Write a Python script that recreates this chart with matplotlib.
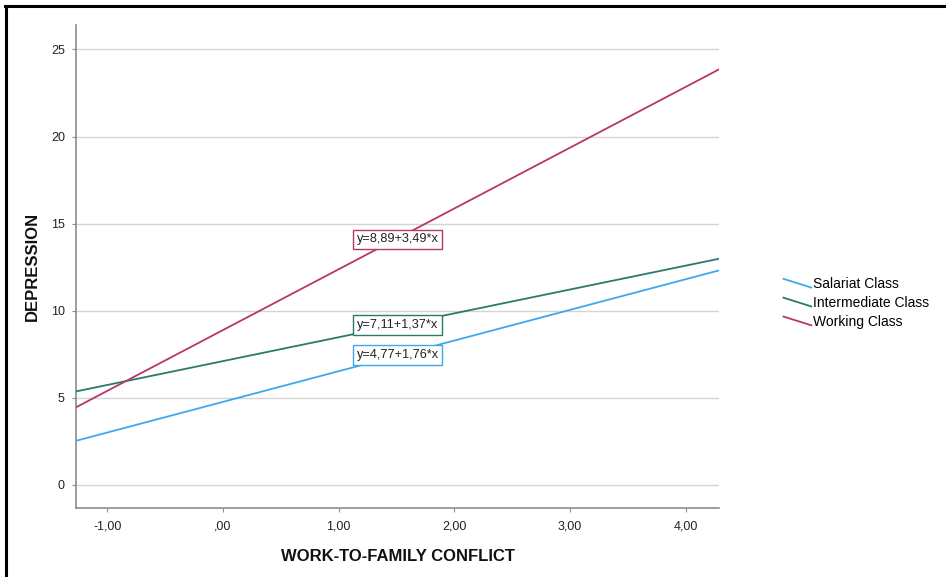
import matplotlib
matplotlib.use("Agg")
import matplotlib.pyplot as plt
import numpy as np
from matplotlib.legend_handler import HandlerLine2D
from matplotlib.lines import Line2D

plt.rcParams['font.family'] = ['Liberation Sans', 'DejaVu Sans']

# Fit lines: intercept and slope for each class
groups = ["Salariat Class", "Intermediate Class", "Working Class"]
intercepts = [4.77, 7.11, 8.89]
slopes = [1.76, 1.37, 3.49]
colors = ["#3ea8ee", "#2a7a6c", "#b8366b"]
label_pos_x = [1.51, 1.51, 1.51]
label_pos_y = [7.45, 9.2, 14.1]

x_range = [-1.27, 4.29]
y_range = [-1.32, 26.4]
x_ticks = [-1, 0, 1, 2, 3, 4]
x_tick_labels = ["-1,00", ",00", "1,00", "2,00", "3,00", "4,00"]
y_ticks = [0, 5, 10, 15, 20, 25]


class DiagonalHandler(HandlerLine2D):
    def create_artists(self, legend, orig_handle, xdescent, ydescent,
                       width, height, fontsize, trans):
        line = Line2D([-xdescent, -xdescent + width],
                      [-ydescent + height * 0.95, -ydescent + height * 0.05],
                      color=orig_handle.get_color(),
                      linewidth=orig_handle.get_linewidth())
        line.set_transform(trans)
        return [line]


fig = plt.figure(figsize=(9.46, 5.77), dpi=100)
ax = fig.add_axes([0.0803, 0.1196, 0.680, 0.837])

xs = np.array(x_range)
handles = []
for name, b0, b1, c in zip(groups, intercepts, slopes, colors):
    h, = ax.plot(xs, b0 + b1 * xs, color=c, linewidth=1.3, label=name,
                 solid_capstyle="butt", zorder=3)
    handles.append(h)

for b0, b1, c, lx, ly in zip(intercepts, slopes, colors, label_pos_x, label_pos_y):
    txt = "y=%s+%s*x" % (f"{b0:.2f}".replace(".", ","), f"{b1:.2f}".replace(".", ","))
    ax.text(lx, ly, txt, ha="center", va="center", fontsize=9.2, color="#222222",
            zorder=5,
            bbox=dict(boxstyle="square,pad=0.3", fc="white", ec=c, lw=1.0))

ax.set_xlim(*x_range)
ax.set_ylim(*y_range)
ax.set_xticks(x_ticks)
ax.set_xticklabels(x_tick_labels)
ax.set_yticks(y_ticks)
ax.yaxis.grid(True, color="#d4d4d4", linewidth=1.0, zorder=0)
ax.set_axisbelow(True)

for side in ("top", "right"):
    ax.spines[side].set_visible(False)
for side in ("left", "bottom"):
    ax.spines[side].set_color("#8c8c8c")
    ax.spines[side].set_linewidth(1.2)

ax.tick_params(axis="both", colors="#8c8c8c", labelcolor="#222222",
               labelsize=9, length=3, width=0.8)
ax.tick_params(axis="y", pad=5)
ax.tick_params(axis="x", pad=6)

ax.set_xlabel("WORK-TO-FAMILY CONFLICT", fontsize=12, fontweight="bold",
              labelpad=12, color="#111111")
ax.set_ylabel("DEPRESSION", fontsize=12, fontweight="bold",
              labelpad=8, color="#111111")

leg = fig.legend(handles=handles, labels=groups, loc="center left",
                 bbox_to_anchor=(0.815, 0.475), frameon=False, fontsize=10,
                 handlelength=2.0, handletextpad=0.15, labelspacing=0.35,
                 handler_map={Line2D: DiagonalHandler()})

# Frame lines along the top and left edges of the figure
fig.add_artist(Line2D([0.0065, 0.0065], [0.0, 0.9895], transform=fig.transFigure,
                      color="black", linewidth=2.2))
fig.add_artist(Line2D([0.0055, 1.0], [0.9895, 0.9895], transform=fig.transFigure,
                      color="black", linewidth=2.2))

fig.savefig("out.png", dpi=100, facecolor="white")
